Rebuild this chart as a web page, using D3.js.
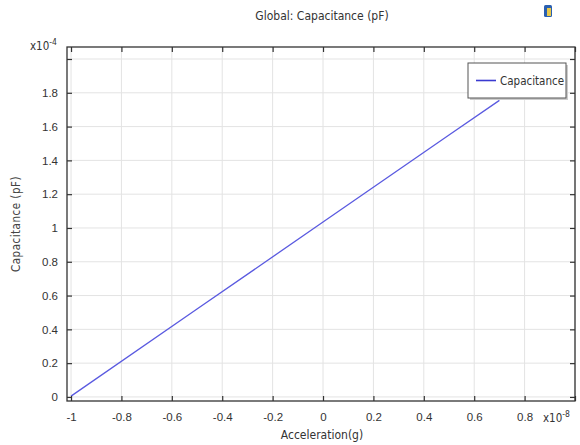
<!DOCTYPE html>
<html lang="en">
<head>
<meta charset="UTF-8">
<title>Global: Capacitance (pF)</title>
<script src="https://d3js.org/d3.v7.min.js"></script>
<style>
    body { margin: 0; background: #fff; }
    svg { display: block; font-family: "DejaVu Sans Condensed", "DejaVu Sans", sans-serif; font-stretch: condensed; }
    .tick text { fill: #333; font-size: 11.5px; }
    .grid line { stroke: #e3e3e3; stroke-width: 1; }
</style>
</head>
<body>
<svg id="chart" width="580" height="445"></svg>
<script>
// data (x in units of 1e-8 g, y in units of 1e-4 pF)
const accel = [-1, -0.5, 0, 0.5, 0.7];
const capacitance = [0.005, 0.52, 1.035, 1.55, 1.755];
const xTicks = [-1, -0.8, -0.6, -0.4, -0.2, 0, 0.2, 0.4, 0.6, 0.8, 1];
const yTicks = [0, 0.2, 0.4, 0.6, 0.8, 1, 1.2, 1.4, 1.6, 1.8, 2];
const seriesName = "Capacitance";

const W = 580, H = 445;
const plot = { left: 67, right: 575, top: 47, bottom: 401 };

const svg = d3.select("#chart");

const x = d3.scaleLinear().domain([-1.016, 1.0]).range([plot.left, plot.right]);
const y = d3.scaleLinear().domain([-0.024, 2.071]).range([plot.bottom, plot.top]);

// grid
const grid = svg.append("g").attr("class", "grid");
grid.selectAll(".gx").data(xTicks).enter().append("line")
    .attr("x1", d => x(d)).attr("x2", d => x(d))
    .attr("y1", plot.top).attr("y2", plot.bottom);
grid.selectAll(".gy").data(yTicks).enter().append("line")
    .attr("x1", plot.left).attr("x2", plot.right)
    .attr("y1", d => y(d)).attr("y2", d => y(d));

// line
const line = d3.line().x((d, i) => x(accel[i])).y(d => y(d));
svg.append("path")
    .datum(capacitance)
    .attr("d", line)
    .attr("fill", "none")
    .attr("stroke", "#5a5ae0")
    .attr("stroke-width", 1.3);

// axes, ticks pointing inward; last tick label is replaced by the exponent
const num = d => d3.format("~g")(d).replace("−", "-");
const fmtX = d => d === xTicks[xTicks.length - 1] ? "" : num(d);
const fmtY = d => d === yTicks[yTicks.length - 1] ? "" : num(d);

svg.append("g")
    .attr("transform", `translate(0,${plot.bottom})`)
    .call(d3.axisBottom(x).tickValues(xTicks).tickSizeInner(-5).tickSizeOuter(0).tickPadding(12).tickFormat(fmtX))
    .call(g => g.select(".domain").remove());
svg.append("g")
    .attr("transform", `translate(0,${plot.top})`)
    .call(d3.axisTop(x).tickValues(xTicks).tickSizeInner(-5).tickSizeOuter(0).tickFormat(""))
    .call(g => g.select(".domain").remove());
svg.append("g")
    .attr("transform", `translate(${plot.left},0)`)
    .call(d3.axisLeft(y).tickValues(yTicks).tickSizeInner(-5).tickSizeOuter(0).tickPadding(9).tickFormat(fmtY))
    .call(g => g.select(".domain").remove());
svg.append("g")
    .attr("transform", `translate(${plot.right},0)`)
    .call(d3.axisRight(y).tickValues(yTicks).tickSizeInner(-5).tickSizeOuter(0).tickFormat(""))
    .call(g => g.select(".domain").remove());
svg.selectAll(".tick line").attr("stroke", "#333").attr("stroke-width", 1.2);

// frame
svg.append("rect")
    .attr("x", plot.left).attr("y", plot.top)
    .attr("width", plot.right - plot.left).attr("height", plot.bottom - plot.top)
    .attr("fill", "none").attr("stroke", "#333").attr("stroke-width", 1.3);

// exponents
const expo = (tx, ty, e) => {
    const t = svg.append("text").attr("x", tx).attr("y", ty)
        .attr("font-size", 11.5).attr("fill", "#333");
    t.append("tspan").text("x10");
    t.append("tspan").attr("dy", -5).attr("font-size", 8.5).text(e);
};
expo(30, 50, "-4");
expo(543, 422, "-8");

// titles
svg.append("text").attr("x", 322).attr("y", 20).attr("text-anchor", "middle")
    .attr("font-size", 12).attr("fill", "#333").text("Global: Capacitance (pF)");
svg.append("text").attr("x", 322).attr("y", 439).attr("text-anchor", "middle")
    .attr("font-size", 12).attr("fill", "#333").text("Acceleration(g)");
svg.append("text")
    .attr("transform", `translate(20,${(plot.top + plot.bottom) / 2}) rotate(-90)`)
    .attr("text-anchor", "middle").attr("font-size", 11.5).attr("fill", "#444")
    .style("font-stretch", "normal").style("letter-spacing", "0.5px")
    .text("Capacitance (pF)");

// legend
const lg = svg.append("g").attr("transform", "translate(468,63)");
lg.append("rect").attr("x", 2).attr("y", 2).attr("width", 98).attr("height", 35)
    .attr("fill", "#ccc");
lg.append("rect").attr("width", 98).attr("height", 35)
    .attr("fill", "#fff").attr("stroke", "#555").attr("stroke-width", 1);
lg.append("line").attr("x1", 8).attr("x2", 28).attr("y1", 17.5).attr("y2", 17.5)
    .attr("stroke", "#3a3ad0").attr("stroke-width", 1.6);
lg.append("text").attr("x", 32).attr("y", 22).attr("font-size", 11.5)
    .attr("fill", "#333").text(seriesName);

// small toolbar icon, top right
const ic = svg.append("g").attr("transform", "translate(544,5)");
ic.append("rect").attr("width", 8).attr("height", 12).attr("rx", 1.5)
    .attr("fill", "#2a5fb0");
ic.append("rect").attr("x", 3).attr("y", 3).attr("width", 4).attr("height", 8)
    .attr("fill", "#e8c84a");
</script>
</body>
</html>
